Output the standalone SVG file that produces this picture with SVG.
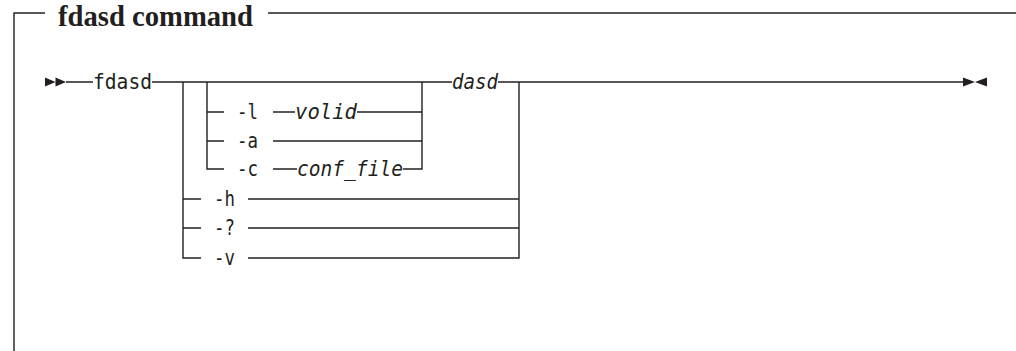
<svg xmlns="http://www.w3.org/2000/svg" width="1016" height="351" viewBox="0 0 1016 351">
<style>
.ln{stroke:#231f20;stroke-width:1.4;fill:none}
.t{font-family:"DejaVu Sans Mono","Liberation Mono",monospace;font-size:20.5px;fill:#231f20}
.v{font-family:"DejaVu Sans Mono","Liberation Mono",monospace;font-style:italic;font-size:20.5px;fill:#231f20}
.ttl{font-family:"Liberation Serif","DejaVu Serif",serif;font-weight:bold;font-size:29px;fill:#231f20}
.ah{fill:#231f20}
</style>
<rect width="1016" height="351" fill="#fff"/>
<g id="frame">
<path class="ln" d="M14,351 V13 H45 M268,13 H1016"/>
<text class="ttl" x="58" y="26" textLength="195" lengthAdjust="spacingAndGlyphs">fdasd command</text>
</g>
<g id="connectors">
<path class="ln" d="M66,82 H93 M152,82 H452 M498,82 H963"/>
<path class="ln" d="M183,82 V258 H201"/>
<path class="ln" d="M207,82 V169 H224"/>
<path class="ln" d="M207,112 H224 M207,141 H224"/>
<path class="ln" d="M273,112 H295 M357,112 H422"/>
<path class="ln" d="M273,141 H422"/>
<path class="ln" d="M273,169 H297 M403,169 H422 V82"/>
<path class="ln" d="M183,199 H201 M183,228 H201"/>
<path class="ln" d="M248,199 H519 M248,228 H519 M248,258 H519 V82"/>
<path class="ah" d="M45,77.5 L55.5,82 L45,86.5 Z M55.5,77.5 L66,82 L55.5,86.5 Z"/>
<path class="ah" d="M963,77.5 L975,82 L963,86.5 Z M987,77.5 L975,82 L987,86.5 Z"/>
</g>
<g id="n-fdasd"><text class="t" x="93" y="89" textLength="59" lengthAdjust="spacingAndGlyphs">fdasd</text></g>
<g id="n-l"><text class="t" x="237" y="119" textLength="21" lengthAdjust="spacingAndGlyphs">-l</text></g>
<g id="n-volid"><text class="v" x="295" y="119" textLength="62" lengthAdjust="spacingAndGlyphs">volid</text></g>
<g id="n-a"><text class="t" x="237" y="148" textLength="21" lengthAdjust="spacingAndGlyphs">-a</text></g>
<g id="n-c"><text class="t" x="237" y="176" textLength="21" lengthAdjust="spacingAndGlyphs">-c</text></g>
<g id="n-conf"><text class="v" x="297" y="176" textLength="106" lengthAdjust="spacingAndGlyphs">conf_file</text></g>
<g id="n-dasd"><text class="v" x="452" y="89" textLength="46" lengthAdjust="spacingAndGlyphs">dasd</text></g>
<g id="n-h"><text class="t" x="214" y="206" textLength="21" lengthAdjust="spacingAndGlyphs">-h</text></g>
<g id="n-q"><text class="t" x="214" y="235" textLength="21" lengthAdjust="spacingAndGlyphs">-?</text></g>
<g id="n-v"><text class="t" x="214" y="265" textLength="21" lengthAdjust="spacingAndGlyphs">-v</text></g>
</svg>
